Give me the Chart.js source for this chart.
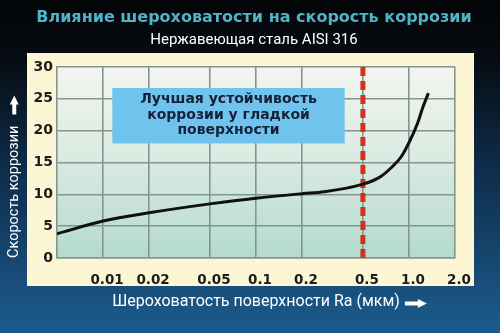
<!DOCTYPE html>
<html><head><meta charset="utf-8">
<script src="https://cdn.jsdelivr.net/npm/chart.js@4/dist/chart.umd.min.js"></script>
<style>html,body{margin:0;padding:0;background:#000;}canvas{display:block;}</style>
</head><body>
<canvas id="c" width="500" height="333"></canvas>
<script>
// ---- data ----
const roughness = [0.005, 0.01, 0.02, 0.05, 0.1, 0.2, 0.28, 0.5, 0.645, 0.775, 0.89, 1.0, 1.14, 1.23, 1.34];
const corrosionRate = [3.8, 5.8, 7.1, 8.5, 9.4, 10.1, 10.4, 11.6, 12.7, 14.3, 15.9, 18.1, 21.2, 23.6, 25.9];
const xTicks = [0.01, 0.02, 0.05, 0.1, 0.2, 0.5, 1.0, 2.0];
const xTickLabels = ['0.01', '0.02', '0.05', '0.1', '0.2', '0.5', '1.0', '2.0'];
const yTicks = [0, 5, 10, 15, 20, 25, 30];
const markerX = [0.5, 0.5];
const markerY = [30, 0];
const noteLines = ['Лучшая устойчивость', 'коррозии у гладкой', 'поверхности'];
const titleText = 'Влияние шероховатости на скорость коррозии';
const subtitleText = 'Нержавеющая сталь AISI 316';
const xTitle = 'Шероховатость поверхности Ra (мкм)';
const yTitle = 'Скорость коррозии';

// ---- style constants ----
const GRID = '#84958e';
const X_TITLE_FONT = {family: 'Roboto', size: 16, lineHeight: 1.2};
const Y_TITLE_FONT = {family: 'Roboto', size: 14.5, lineHeight: 1};
const NOTE = {x0: 0.0115, x1: 0.38, yTop: 26.7, yBot: 18.0};

function arrowRight(ctx, x, y, len) {
  ctx.beginPath();
  ctx.moveTo(x, y - 2);
  ctx.lineTo(x + len - 9, y - 2);
  ctx.lineTo(x + len - 9, y - 4.5);
  ctx.lineTo(x + len, y);
  ctx.lineTo(x + len - 9, y + 4.5);
  ctx.lineTo(x + len - 9, y + 2);
  ctx.lineTo(x, y + 2);
  ctx.closePath();
  ctx.fill();
}
function arrowUp(ctx, x, y, len) {
  ctx.beginPath();
  ctx.moveTo(x - 2, y);
  ctx.lineTo(x - 2, y - len + 9);
  ctx.lineTo(x - 4.5, y - len + 9);
  ctx.lineTo(x, y - len);
  ctx.lineTo(x + 4.5, y - len + 9);
  ctx.lineTo(x + 2, y - len + 9);
  ctx.lineTo(x + 2, y);
  ctx.closePath();
  ctx.fill();
}

const decor = {
  id: 'decor',
  beforeDraw(chart) {
    const {ctx, width, height, chartArea: ca} = chart;
    ctx.save();
    const bg = ctx.createLinearGradient(0, 0, 0, height);
    bg.addColorStop(0, '#030507');
    bg.addColorStop(0.18, '#060c13');
    bg.addColorStop(0.5, '#0e2c4a');
    bg.addColorStop(1, '#1c5c8d');
    ctx.fillStyle = bg;
    ctx.fillRect(0, 0, width, height);
    ctx.fillStyle = '#fcf6d4';
    ctx.fillRect(ca.left - 30, ca.top - 14, ca.right - ca.left + 49, ca.bottom - ca.top + 42);
    const pg = ctx.createLinearGradient(0, ca.top, 0, ca.bottom);
    pg.addColorStop(0, '#f3f4ef');
    pg.addColorStop(0.45, '#dcebe3');
    pg.addColorStop(1, '#b4dbcd');
    ctx.fillStyle = pg;
    ctx.fillRect(ca.left, ca.top, ca.right - ca.left, ca.bottom - ca.top);
    ctx.restore();
  },
  beforeDatasetsDraw(chart) {
    const {ctx, scales: {x, y}} = chart;
    const l = x.getPixelForValue(NOTE.x0), r = x.getPixelForValue(NOTE.x1);
    const t = y.getPixelForValue(NOTE.yTop), b = y.getPixelForValue(NOTE.yBot);
    ctx.save();
    ctx.fillStyle = '#70c3ec';
    ctx.fillRect(l, t, r - l, b - t);
    ctx.fillStyle = '#15203a';
    ctx.font = 'bold 14px "DejaVu Sans"';
    ctx.textAlign = 'center';
    ctx.textBaseline = 'middle';
    const cx = (l + r) / 2, cy = (t + b) / 2;
    noteLines.forEach((s, i) => ctx.fillText(s, cx, cy - 0.5 + (i - 1) * 15.5));
    ctx.restore();
  },
  afterDraw(chart) {
    const {ctx, chartArea: ca, scales: {x, y}} = chart;
    ctx.save();
    ctx.fillStyle = '#ffffff';
    ctx.font = X_TITLE_FONT.size + 'px ' + X_TITLE_FONT.family;
    const wx = ctx.measureText(xTitle).width;
    const tx = (ca.left + ca.right) / 2 + wx / 2 + 5;
    const ty = x.bottom - X_TITLE_FONT.size * X_TITLE_FONT.lineHeight / 2 - 21;
    arrowRight(ctx, tx, ty + 1, 22);
    ctx.font = Y_TITLE_FONT.size + 'px ' + Y_TITLE_FONT.family;
    const wy = ctx.measureText(yTitle).width;
    const ax = y.left + Y_TITLE_FONT.size / 2 - 1;
    arrowUp(ctx, ax, ca.bottom - wy - 11, 19);
    ctx.restore();
  }
};

new Chart(document.getElementById('c'), {
  type: 'line',
  data: {
    datasets: [
      {
        data: roughness.map((v, i) => ({x: v, y: corrosionRate[i]})),
        borderColor: '#101010',
        borderWidth: 3,
        pointRadius: 0,
        cubicInterpolationMode: 'monotone',
        fill: false
      },
      {
        data: markerX.map((v, i) => ({x: v, y: markerY[i]})),
        borderColor: '#d5301f',
        borderWidth: 5,
        borderDash: [9, 5],
        borderCapStyle: 'butt',
        pointRadius: 0,
        fill: false
      }
    ]
  },
  options: {
    responsive: false,
    animation: false,
    devicePixelRatio: 1,
    layout: {padding: {left: 8, right: 0, top: 0, bottom: 0}},
    plugins: {
      legend: {display: false},
      tooltip: {enabled: false},
      title: {
        display: true, text: titleText, color: '#4fb3c9',
        font: {family: 'DejaVu Sans', size: 16, weight: 'bold', lineHeight: 1.2},
        padding: {top: 8.4, bottom: 4}
      },
      subtitle: {
        display: true, text: subtitleText, color: '#ffffff',
        font: {family: 'Roboto', size: 15, lineHeight: 1.2},
        padding: {top: 0, bottom: 17.4}
      }
    },
    scales: {
      x: {
        type: 'logarithmic', min: 0.005, max: 2.0,
        afterBuildTicks(s) { s.ticks = xTicks.map(v => ({value: v})); },
        afterFit(s) { s.height = 75; },
        grid: {color: GRID, lineWidth: 1.6, drawTicks: false},
        border: {color: GRID, width: 1.6},
        ticks: {
          callback: (v, i) => xTickLabels[i],
          color: '#1c1c1c', padding: 14, labelOffset: 4,
          maxRotation: 0, autoSkip: false,
          font: {family: 'DejaVu Sans', size: 13.5, weight: 'bold'}
        },
        title: {display: true, text: xTitle, color: '#ffffff', font: X_TITLE_FONT, padding: {top: 0, bottom: 21}}
      },
      y: {
        min: 0, max: 30,
        afterBuildTicks(s) { s.ticks = yTicks.map(v => ({value: v})); },
        afterFit(s) { s.width = 49; },
        grid: {color: GRID, lineWidth: 1.6, drawTicks: false},
        border: {color: GRID, width: 1.6},
        ticks: {
          color: '#1c1c1c', padding: 4,
          font: {family: 'DejaVu Sans', size: 14, weight: 'bold'}
        },
        title: {display: true, text: yTitle, color: '#ffffff', align: 'start', font: Y_TITLE_FONT, padding: {top: -1, bottom: 0}}
      },
      yR: {
        position: 'right', display: true,
        grid: {display: false}, border: {display: false}, ticks: {display: false},
        afterFit(s) { s.width = 45; }
      }
    }
  },
  plugins: [decor]
});
</script>
</body></html>
